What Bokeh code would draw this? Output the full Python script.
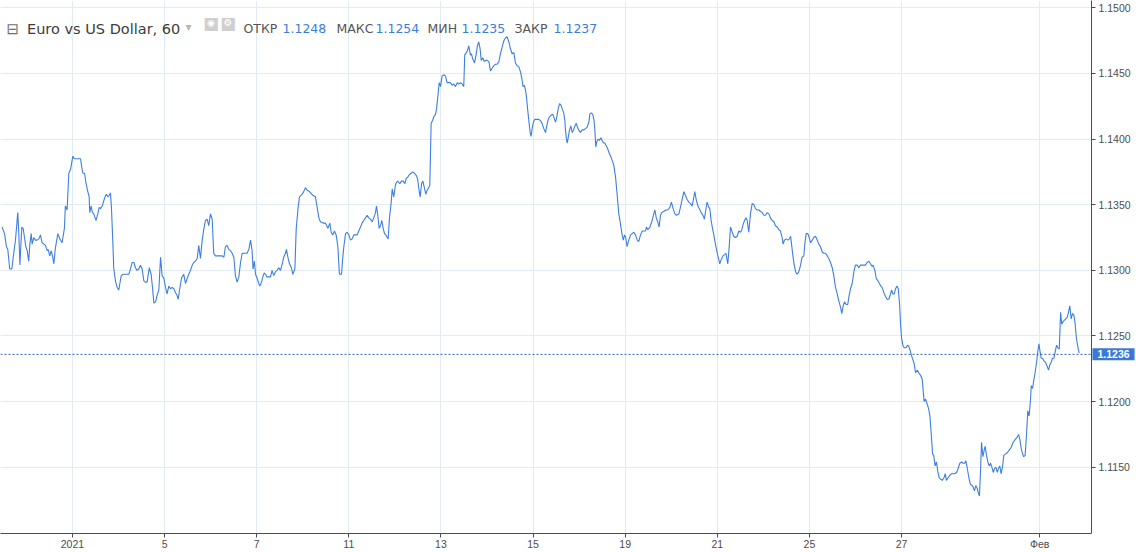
from bokeh.plotting import figure
from bokeh.models import FixedTicker, Span, Label, Range1d, PrintfTickFormatter
from bokeh.embed import file_html
from bokeh.resources import INLINE

# EUR/USD hourly close; x = trading hours from 1 Jan 2021 00:00 (weekends skipped)
h1 = [-36.7,-35.4,-34.4,-33.7,-32.7,-31.6,-30.6,-29.7,-28.5,-28.0,-27.4,-26.4,-25.7,-25.0,-24.3,-23.6,-22.8,-22.2,-21.5,-21.0,
      -20.2,-19.3,-18.4,-17.5,-16.7,-15.8,-14.9,-14.1,-13.2,-12.7,-11.8,-11.1,-10.4,-9.7,-8.9,-7.6,-6.6,-5.4,-4.2,-3.7,
      -2.8,-1.9,-1.0,0.2,1.0,4.2,4.7,5.4,6.3,7.1,8.0,8.7,9.0,9.7,10.4,11.1,11.8,12.3,13.2,13.9,
      14.6,15.5,16.3,17.0,17.7,18.4,19.1,19.8,20.3,21.0,21.5,22.4,23.3,24.1,24.7,25.4,26.4,27.6,28.5,29.4,
      30.2,31.1,32.0,32.8,33.7,34.6,35.4,36.3,37.2,38.0,38.9,40.0,41.0,41.7,42.4]
p1 = [1.1333,1.1328,1.1318,1.1316,1.1301,1.1301,1.1313,1.1323,1.1344,1.1330,1.1304,1.1333,1.1332,1.1325,1.1318,1.1315,1.1307,1.1320,1.1328,1.1320,
      1.1325,1.1323,1.1323,1.1324,1.1327,1.1321,1.1320,1.1319,1.1315,1.1316,1.1311,1.1315,1.1311,1.1305,1.1317,1.1328,1.1324,1.1321,1.1332,1.1349,
      1.1346,1.1374,1.1377,1.1387,1.1385,1.1385,1.1380,1.1374,1.1374,1.1366,1.1360,1.1356,1.1344,1.1349,1.1344,1.1343,1.1340,1.1338,1.1343,1.1348,
      1.1347,1.1349,1.1353,1.1356,1.1358,1.1356,1.1357,1.1359,1.1348,1.1323,1.1302,1.1292,1.1287,1.1285,1.1290,1.1296,1.1297,1.1297,1.1297,1.1297,
      1.1301,1.1306,1.1306,1.1302,1.1300,1.1301,1.1304,1.1301,1.1292,1.1291,1.1291,1.1302,1.1297,1.1287,1.1275]

h2 = [43.3,44.1,45.0,45.9,46.7,47.6,48.5,49.3,50.2,51.1,51.9,52.8,53.7,54.5,55.1,55.8,56.8,58.0,58.9,59.8,
      60.6,61.5,62.4,63.2,64.1,65.0,65.8,66.7,67.6,68.4,69.3,70.2,71.0,71.9,72.8,73.6,74.5,76.3,78.0,78.9,
      79.7,80.6,81.5,82.3,83.2,84.1,84.9,85.8,86.7,87.5,88.4,89.3,90.1,91.0,91.9,92.8,93.6,94.1,94.8,95.4,
      96.2,97.1,97.6,98.5,99.2,99.9,100.6,101.4,102.3,103.2,104.0,104.9,105.8,106.7,107.5,108.4,109.3,110.1,111.0,111.5,
      112.4,113.1,114.1,114.8,115.9,116.6,117.6,118.3,119.7,120.5,121.4,122.3,123.5]
p2 = [1.1276,1.1281,1.1285,1.1310,1.1296,1.1294,1.1287,1.1282,1.1288,1.1286,1.1287,1.1286,1.1283,1.1281,1.1278,1.1285,1.1294,1.1297,1.1290,1.1294,
      1.1297,1.1300,1.1304,1.1306,1.1307,1.1309,1.1319,1.1309,1.1323,1.1331,1.1338,1.1339,1.1334,1.1343,1.1339,1.1313,1.1311,1.1311,1.1311,1.1310,
      1.1318,1.1319,1.1316,1.1315,1.1313,1.1310,1.1296,1.1291,1.1295,1.1305,1.1313,1.1313,1.1313,1.1313,1.1316,1.1323,1.1315,1.1301,1.1307,1.1297,
      1.1294,1.1290,1.1288,1.1291,1.1295,1.1298,1.1297,1.1295,1.1295,1.1295,1.1300,1.1296,1.1299,1.1300,1.1302,1.1300,1.1305,1.1310,1.1313,1.1316,
      1.1309,1.1305,1.1302,1.1297,1.1301,1.1332,1.1348,1.1356,1.1358,1.1360,1.1363,1.1361,1.1360]

h3 = [125.4,126.6,127.5,128.4,129.2,130.6,131.8,133.1,134.1,134.8,135.7,136.5,137.4,138.3,139.1,140.2,140.7,141.4,142.3,143.1,
      144.0,144.9,145.7,146.6,147.5,148.3,149.2,150.1,150.9,151.8,152.7,153.6,154.4,155.3,156.2,157.0,157.9,158.4,159.1,159.8,
      160.5,161.2,161.9,162.6,163.3,164.0,164.5,165.2,166.1,166.6,167.4,168.3,168.8,169.5,170.6,171.4,172.3,173.2,173.9,174.7,
      175.6,176.5,177.3,178.2,179.3,179.9,180.6,181.2,181.9,182.6,183.2,184.1,184.8,185.7,186.2,186.9,187.6,188.3,189.2,189.7,
      190.5,191.1,191.8,192.6,193.5,194.4,195.2,196.1,197.0,197.8,198.7,199.6,200.5,201.3,202.2,203.1,203.9,204.4]
p3 = [1.1357,1.1356,1.1348,1.1340,1.1337,1.1336,1.1336,1.1332,1.1336,1.1329,1.1327,1.1330,1.1327,1.1318,1.1297,1.1297,1.1307,1.1318,1.1328,1.1329,
      1.1327,1.1323,1.1324,1.1327,1.1327,1.1327,1.1330,1.1333,1.1336,1.1338,1.1340,1.1342,1.1340,1.1339,1.1337,1.1340,1.1344,1.1349,1.1342,1.1332,
      1.1334,1.1338,1.1332,1.1328,1.1327,1.1325,1.1324,1.1340,1.1352,1.1362,1.1356,1.1365,1.1367,1.1368,1.1366,1.1368,1.1368,1.1366,1.1370,1.1371,
      1.1373,1.1374,1.1375,1.1374,1.1372,1.1369,1.1361,1.1356,1.1366,1.1368,1.1364,1.1358,1.1361,1.1363,1.1365,1.1412,1.1414,1.1417,1.1419,1.1423,
      1.1434,1.1443,1.1440,1.1448,1.1449,1.1448,1.1443,1.1443,1.1443,1.1441,1.1442,1.1440,1.1443,1.1442,1.1443,1.1442,1.1440,1.1464]

h4 = [205.7,206.5,207.4,207.9,208.6,209.5,210.4,211.0,211.7,212.4,213.0,213.8,214.5,215.2,216.1,217.0,217.8,218.7,219.6,220.4,
      221.3,222.2,223.0,223.9,224.8,225.6,226.5,227.4,228.2,229.1,230.0,230.8,231.7,232.6,233.5,234.3,234.8,235.5,236.1,236.6,
      237.1,237.8,238.5,239.0,239.5,240.2,240.9,241.8,243.0,243.9,244.7,245.6,246.5,247.0,247.9,248.6,249.3,250.3,251.0,251.7,
      252.4,253.1,253.8,254.5,255.2,256.0,256.6,256.9,257.4,257.8,258.3,259.0,259.7,260.4,261.1,261.8,262.5,263.2,263.8,264.7,
      265.6,266.5,267.3,268.2,269.1,269.6,270.3,271.1,271.8,272.2,272.7,273.2,273.9,274.6,275.3,276.0,276.7,277.4,278.1,278.8,
      279.5,280.4,281.2,282.1,283.0,283.8,284.7,285.6]
p4 = [1.1467,1.1471,1.1464,1.1465,1.1461,1.1458,1.1465,1.1471,1.1474,1.1469,1.1460,1.1462,1.1459,1.1460,1.1460,1.1459,1.1452,1.1454,1.1456,1.1457,
      1.1457,1.1459,1.1465,1.1470,1.1475,1.1477,1.1478,1.1474,1.1469,1.1465,1.1466,1.1458,1.1456,1.1455,1.1451,1.1445,1.1440,1.1441,1.1437,1.1432,
      1.1424,1.1414,1.1405,1.1402,1.1408,1.1413,1.1415,1.1415,1.1415,1.1414,1.1412,1.1408,1.1405,1.1409,1.1415,1.1417,1.1418,1.1419,1.1416,1.1413,
      1.1417,1.1423,1.1427,1.1426,1.1423,1.1420,1.1414,1.1407,1.1400,1.1397,1.1401,1.1407,1.1410,1.1405,1.1407,1.1410,1.1412,1.1409,1.1407,1.1405,
      1.1407,1.1407,1.1408,1.1409,1.1413,1.1419,1.1420,1.1419,1.1414,1.1407,1.1394,1.1398,1.1400,1.1399,1.1401,1.1399,1.1397,1.1397,1.1395,1.1393,
      1.1390,1.1387,1.1384,1.1380,1.1371,1.1358,1.1343,1.1335]

h5 = [286.3,287.0,287.7,288.3,289.0,289.9,290.8,291.6,292.5,293.4,294.3,295.1,296.0,296.9,297.7,298.6,299.1,299.8,300.9,302.1,
      302.9,303.5,304.2,305.0,305.7,306.4,307.1,308.2,309.2,310.2,311.3,312.1,313.0,313.9,314.7,316.0,316.8,317.7,318.6,319.4,
      320.3,321.2,322.0,322.9,323.8,324.3,325.0,325.9,326.7,327.6,328.5,329.3,330.0,330.7,331.6,332.1,332.8,333.5,334.2,334.9,
      335.6,336.3,337.3,338.0,338.9,339.8,340.5,341.0,341.5,342.2,342.9,343.8,344.6,345.5,346.4,347.2,348.1,348.8,349.5,350.2,
      350.9,351.6,352.4,353.3,354.2,355.1,355.9,356.8,357.7,358.5,359.4,360.3,361.1,362.0,362.9,363.7,364.6,365.5,366.3]
p5 = [1.1328,1.1323,1.1327,1.1325,1.1318,1.1323,1.1327,1.1328,1.1329,1.1327,1.1323,1.1322,1.1327,1.1330,1.1330,1.1330,1.1333,1.1331,1.1333,1.1338,
      1.1343,1.1346,1.1340,1.1337,1.1333,1.1342,1.1344,1.1345,1.1346,1.1346,1.1348,1.1352,1.1347,1.1343,1.1342,1.1343,1.1348,1.1354,1.1360,1.1357,
      1.1354,1.1352,1.1351,1.1349,1.1356,1.1360,1.1354,1.1349,1.1347,1.1344,1.1342,1.1339,1.1346,1.1352,1.1348,1.1347,1.1338,1.1332,1.1327,1.1321,
      1.1316,1.1311,1.1305,1.1308,1.1311,1.1312,1.1313,1.1309,1.1305,1.1318,1.1333,1.1329,1.1326,1.1325,1.1326,1.1330,1.1329,1.1331,1.1335,1.1338,
      1.1340,1.1338,1.1329,1.1343,1.1351,1.1350,1.1347,1.1346,1.1346,1.1345,1.1344,1.1342,1.1342,1.1344,1.1343,1.1340,1.1338,1.1337,1.1334]

h6 = [367.2,368.1,368.9,369.8,370.3,371.0,371.9,372.8,373.6,374.2,374.7,375.4,376.1,376.8,377.6,378.5,379.4,380.2,381.1,381.6,
      382.3,383.2,383.9,384.6,385.5,386.3,387.2,388.1,388.9,389.8,390.7,391.5,392.4,393.3,394.1,395.0,395.9,396.7,397.6,398.5,
      399.3,400.2,400.9,401.6,402.3,403.2,404.0,404.6,405.4,406.3,407.2,408.0,408.9,409.8,410.6,411.5,412.4,413.2,414.1,415.0,
      415.8,416.7,417.2,418.1,418.8,419.7,420.5,421.2,421.9,422.8,423.7,424.5,425.4,426.3,426.8,427.5,428.2,428.9,429.6,430.3,
      431.0,431.5,432.0,432.7,433.4,434.3,435.1,435.8,436.5,437.2,437.9,438.6,439.3,440.2,441.0,441.9,442.8,443.3,443.8,444.5,
      445.4,446.2,446.8]
p6 = [1.1333,1.1331,1.1330,1.1325,1.1320,1.1323,1.1324,1.1323,1.1324,1.1326,1.1320,1.1311,1.1304,1.1299,1.1297,1.1299,1.1304,1.1310,1.1311,1.1320,
      1.1328,1.1328,1.1325,1.1321,1.1323,1.1325,1.1326,1.1323,1.1320,1.1318,1.1314,1.1313,1.1313,1.1311,1.1309,1.1306,1.1302,1.1296,1.1287,1.1282,
      1.1277,1.1272,1.1267,1.1273,1.1276,1.1274,1.1274,1.1280,1.1286,1.1290,1.1299,1.1304,1.1304,1.1302,1.1304,1.1304,1.1304,1.1304,1.1306,1.1307,
      1.1305,1.1303,1.1304,1.1300,1.1294,1.1292,1.1290,1.1288,1.1287,1.1283,1.1280,1.1278,1.1278,1.1282,1.1285,1.1282,1.1282,1.1286,1.1288,1.1286,
      1.1274,1.1259,1.1249,1.1243,1.1241,1.1241,1.1243,1.1242,1.1239,1.1235,1.1232,1.1229,1.1222,1.1224,1.1222,1.1220,1.1217,1.1208,1.1200,1.1202,
      1.1198,1.1194,1.1189]

h7 = [447.6,448.2,448.8,449.5,450.2,450.9,451.6,452.3,453.2,454.1,454.8,455.4,456.3,457.2,458.1,458.9,459.8,460.7,461.5,462.4,
      463.3,464.1,465.0,465.5,466.2,467.1,467.9,468.8,469.3,470.0,470.7,471.4,471.9,472.6,473.2,473.7,474.4,475.1,475.6,476.3,
      477.0,477.7,478.4,479.1,479.8,480.5,481.2,481.9,482.5,483.2,483.9,484.6,485.3,486.2,487.1,488.1,489.1,490.2,491.2,492.3,
      493.0,493.7,494.4,495.1,495.7,496.4,497.1,497.8,498.5,499.2,499.6,500.3,500.9,501.6,502.3,503.0,503.6,504.1,504.8,505.5,
      506.2,507.0,507.9,508.6,509.3,510.0,510.7,511.4,512.1,512.8,513.5,514.2,514.9,515.5,516.2,516.9,517.6,518.3,519.0,519.7,
      520.4,521.1,521.8,522.5,523.0,523.5,524.1,524.6]
p7 = [1.1173,1.1160,1.1159,1.1151,1.1154,1.1147,1.1142,1.1141,1.1140,1.1142,1.1145,1.1140,1.1142,1.1144,1.1145,1.1145,1.1145,1.1146,1.1149,1.1153,
      1.1154,1.1153,1.1153,1.1155,1.1150,1.1142,1.1137,1.1136,1.1135,1.1132,1.1136,1.1134,1.1131,1.1128,1.1148,1.1169,1.1158,1.1163,1.1166,1.1159,
      1.1154,1.1151,1.1153,1.1150,1.1146,1.1149,1.1150,1.1146,1.1149,1.1151,1.1145,1.1150,1.1159,1.1160,1.1161,1.1163,1.1165,1.1169,1.1171,1.1173,
      1.1175,1.1171,1.1164,1.1160,1.1158,1.1159,1.1174,1.1193,1.1189,1.1201,1.1212,1.1210,1.1216,1.1222,1.1229,1.1238,1.1244,1.1239,1.1233,1.1233,
      1.1231,1.1230,1.1227,1.1224,1.1228,1.1230,1.1233,1.1233,1.1238,1.1243,1.1241,1.1240,1.1268,1.1259,1.1261,1.1262,1.1263,1.1264,1.1268,1.1273,
      1.1263,1.1267,1.1266,1.1259,1.1250,1.1245,1.1240,1.1237]

x_tick_hours = [0, 48, 96, 144, 192, 240, 288, 336, 384, 432, 504]
x_tick_labels = ["2021", "5", "7", "11", "13", "15", "19", "21", "25", "27", "Фев"]
y_ticks = [1.115, 1.120, 1.125, 1.130, 1.135, 1.140, 1.145, 1.150]
last_price = 1.1236
title_text = "Euro vs US Dollar, 60"
ohlc_names = ["ОТКР", "МАКС", "МИН", "ЗАКР"]
ohlc_values = ["1.1248", "1.1254", "1.1235", "1.1237"]

hours = h1 + h2 + h3 + h4 + h5 + h6 + h7
prices = p1 + p2 + p3 + p4 + p5 + p6 + p7

X0, X1 = -37.5, 531.0
FH = 533
p = figure(frame_width=1091, frame_height=FH,
           x_range=Range1d(X0, X1), y_range=Range1d(1.10995, 1.15056),
           y_axis_location="right", output_backend="svg", toolbar_location=None,
           min_border_left=0, min_border_top=0, min_border_right=45, min_border_bottom=19,
           background_fill_color="white", border_fill_color="white")
p.styles = {"outline": "1px solid #e0e3eb", "outline-offset": "-2px"}
p.outline_line_color = None

p.grid.grid_line_color = "#e1ecf2"
p.xgrid.ticker = FixedTicker(ticks=x_tick_hours)
p.ygrid.ticker = FixedTicker(ticks=y_ticks)

p.xaxis.ticker = FixedTicker(ticks=x_tick_hours)
p.xaxis.major_label_overrides = {t: l for t, l in zip(x_tick_hours, x_tick_labels)}
p.yaxis.ticker = FixedTicker(ticks=y_ticks)
p.yaxis.formatter = PrintfTickFormatter(format="%.4f")
for ax in (p.xaxis, p.yaxis):
    ax.axis_line_color = "#4d4d4d"
    ax.major_tick_line_color = "#4d4d4d"
    ax.minor_tick_line_color = None
    ax.major_tick_out = 4
    ax.major_tick_in = 0
    ax.major_label_text_font = "Liberation Sans"
    ax.major_label_text_font_size = "10.5px"
    ax.major_label_text_color = "#4d4d4d"
p.xaxis.major_label_standoff = 0
p.yaxis.major_label_standoff = 3

p.line(hours, prices, line_color="#3d7fe0", line_width=1.1)

p.add_layout(Span(location=last_price, dimension="width", line_color="#2f62b8",
                  line_dash="2 2", line_width=1))
# price tag on the price scale (side panel so it is not clipped to the frame)
p.add_layout(Label(x=X1 + 0.5, y=last_price, text=f"{last_price:.4f}", text_color="white",
                   text_font="Liberation Sans", text_font_size="10.5px", text_font_style="bold",
                   text_baseline="middle", background_fill_color="#3b78d8", padding=(5, 2)), "right")

# header
def hdr(x, base, text, color, size, font="DejaVu Sans", style="normal", align="left", baseline="alphabetic"):
    p.add_layout(Label(x=x, y=FH - base, x_units="screen", y_units="screen", text=text,
                       text_color=color, text_font=font, text_font_size=size,
                       text_font_style=style, text_align=align, text_baseline=baseline))

hdr(6, 28.5, "⊟", "#707070", "15px")
hdr(26.5, 28.5, title_text, "#3c3c3c", "14.5px")
hdr(185, 26, "▾", "#b8b8b8", "12px")
hdr(210.5, 22, "■", "#cfcfcf", "17px", align="center", baseline="middle")
hdr(227.5, 22, "■", "#cfcfcf", "17px", align="center", baseline="middle")
hdr(210.5, 22, "◉", "white", "9px", align="center", baseline="middle")
hdr(227.5, 22, "⚙", "white", "10px", align="center", baseline="middle")
name_x = [243, 336, 427, 514]
val_x = [282, 375, 461, 553]
for nx, vx, n, v in zip(name_x, val_x, ohlc_names, ohlc_values):
    hdr(nx, 27.5, n, "#555555", "12.5px")
    hdr(vx, 27.5, v, "#3b7ddd", "12.5px")

open("out.html", "w").write(file_html(p, INLINE))
